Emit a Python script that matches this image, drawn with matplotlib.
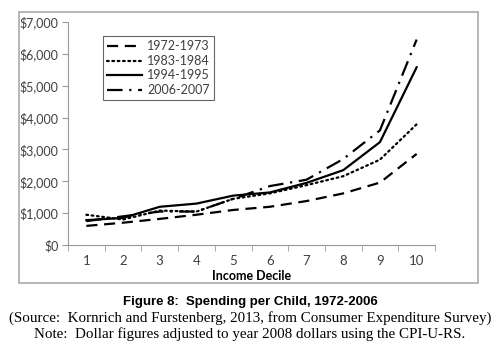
import matplotlib.pyplot as plt
import matplotlib.patches as patches
import numpy as np

deciles = np.arange(1, 11)
y1972 = [600, 700, 820, 950, 1100, 1200, 1380, 1620, 1960, 2860]
y1983 = [950, 800, 1080, 1050, 1450, 1620, 1880, 2160, 2680, 3790]
y1994 = [780, 850, 1200, 1300, 1550, 1650, 1950, 2350, 3230, 5580]
y2006 = [750, 900, 1050, 1050, 1450, 1850, 2050, 2700, 3600, 6450]
labels = ["1972-1973", "1983-1984", "1994-1995", "2006-2007"]

fig = plt.figure(figsize=(5, 3.5), dpi=100)
ax = fig.add_axes([0.136, 0.30, 0.734, 0.637])

lw = 1.6
ax.plot(deciles, y1972, color="black", lw=lw, dashes=(5, 3), label=labels[0])
ax.plot(deciles, y1983, color="black", lw=lw, linestyle=(0, (0.8, 1.6)), dash_capstyle="round", label=labels[1])
ax.plot(deciles, y1994, color="black", lw=lw, label=labels[2])
ax.plot(deciles, y2006, color="black", lw=lw, dashes=(7, 3, 1, 3), label=labels[3])

ax.set_xlim(0.5, 10.5)
ax.set_ylim(0, 7000)
ax.set_yticks(np.arange(0, 7001, 1000))
ax.set_yticklabels(["$0"] + ["${:,}".format(v) for v in range(1000, 7001, 1000)])
ax.set_xticks(deciles)
ax.set_xticks(np.arange(0.5, 10.6, 1), minor=True)
ax.tick_params(axis="x", which="major", length=0, pad=7, labelsize=9.5, labelcolor="#404040")
ax.tick_params(axis="x", which="minor", length=4, color="#999999")
ax.tick_params(axis="y", length=4, pad=3, color="#999999", labelsize=9, labelcolor="#404040")
for lab in ax.get_xticklabels() + ax.get_yticklabels():
    lab.set_family("Lato")
ax.spines["top"].set_visible(False)
ax.spines["right"].set_visible(False)
ax.spines["left"].set_color("#999999")
ax.spines["bottom"].set_color("#999999")
ax.set_xlabel("Income Decile", family="Lato", fontweight="bold", fontsize=9, labelpad=2)

leg = ax.legend(loc="upper left", bbox_to_anchor=(0.078, 0.965), frameon=True, fancybox=False,
                edgecolor="#404040", prop={"family": "Lato", "size": 9}, handlelength=2.8,
                labelspacing=0.2, borderpad=0.35, handletextpad=0.4)
leg.get_frame().set_linewidth(0.8)
for t in leg.get_texts():
    t.set_color("#404040")

frame = patches.Rectangle((0.038, 0.191), 0.918, 0.774, transform=fig.transFigure,
                          fill=False, edgecolor="#aaaaaa", lw=1.2)
fig.add_artist(frame)

fig.text(0.5, 0.138, "Figure 8:  Spending per Child, 1972-2006", ha="center", va="center",
         family="Liberation Sans", fontweight="bold", fontsize=9.5)
fig.text(0.5, 0.09, "(Source:  Kornrich and Furstenberg, 2013, from Consumer Expenditure Survey)",
         ha="center", va="center", family="Liberation Serif", fontsize=10.8)
fig.text(0.5, 0.044, "Note:  Dollar figures adjusted to year 2008 dollars using the CPI-U-RS.",
         ha="center", va="center", family="Liberation Serif", fontsize=10.8)

fig.savefig("out.png", dpi=100)
